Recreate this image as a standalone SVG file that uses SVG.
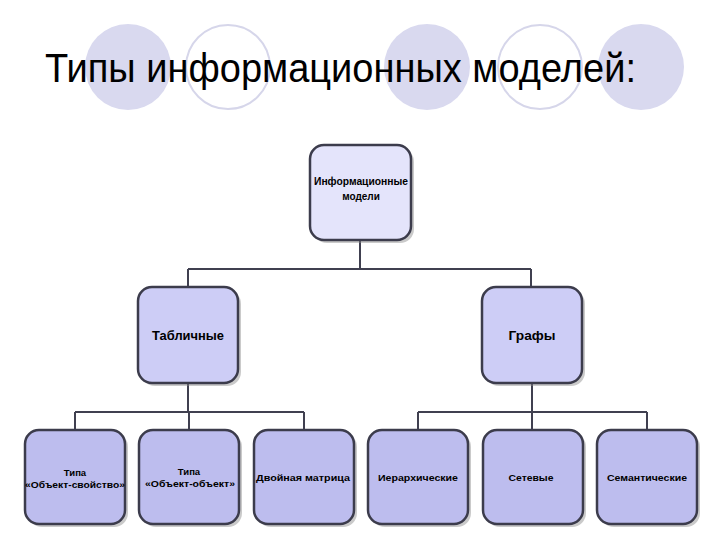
<svg xmlns="http://www.w3.org/2000/svg" width="720" height="540" viewBox="0 0 720 540">
<defs>
<style>
.cf{fill:#d9d9ef;stroke:none}
.co{fill:#ffffff;stroke:#d6d6ea;stroke-width:2}
.title{font-family:"Liberation Sans",Arial,sans-serif;font-size:40px;fill:#000}
.box{stroke:#3c3c4c;stroke-width:2.5}
.sh{fill:#8a8a8a;opacity:0.45}
.l0{fill:#e4e4fb}
.l1{fill:#cdcdf6}
.l2{fill:#bdbdee}
.t{font-family:"Liberation Sans",Arial,sans-serif;font-weight:bold;fill:#000;text-anchor:middle}
.t1{font-size:13px}
.t2{font-size:9.5px}
.conn{fill:none;stroke:#404050;stroke-width:2}
</style>
</defs>
<rect width="720" height="540" fill="#ffffff"/>
<g id="decor">
<circle class="cf" cx="128" cy="67" r="43"/>
<circle class="co" cx="228" cy="67" r="42"/>
<circle class="cf" cx="427" cy="67" r="43"/>
<circle class="co" cx="540" cy="67" r="42"/>
<circle class="cf" cx="641" cy="67" r="43"/>
</g>
<text class="title" x="45" y="82" textLength="591" lengthAdjust="spacingAndGlyphs">Типы информационных моделей:</text>
<g id="connectors">
<path class="conn" d="M360 241V269M188 269H531M188 269V287M531 269V287"/>
<path class="conn" d="M188 383V412M75 412H304M75 412V430M189 412V430M304 412V430"/>
<path class="conn" d="M532 383V412M418 412H647M418 412V430M532 412V430M647 412V430"/>
</g>
<g id="root">
<rect class="sh" x="313" y="148" width="101" height="95" rx="14"/>
<rect class="box l0" x="310" y="145" width="101" height="95" rx="14"/>
<text class="t" x="361" y="185" font-size="10" textLength="94" lengthAdjust="spacingAndGlyphs">Информационные</text>
<text class="t" x="361" y="200" font-size="10">модели</text>
</g>
<g id="tabular">
<rect class="sh" x="141" y="290" width="100" height="96" rx="14"/>
<rect class="box l1" x="138" y="287" width="100" height="96" rx="14"/>
<text class="t t1" x="188" y="340" textLength="72" lengthAdjust="spacingAndGlyphs">Табличные</text>
</g>
<g id="graphs">
<rect class="sh" x="485" y="290" width="100" height="96" rx="14"/>
<rect class="box l1" x="482" y="287" width="100" height="96" rx="14"/>
<text class="t t1" x="532" y="340" textLength="47" lengthAdjust="spacingAndGlyphs">Графы</text>
</g>
<g id="obj-prop">
<rect class="sh" x="28" y="433" width="100" height="94" rx="14"/>
<rect class="box l2" x="25" y="430" width="100" height="94" rx="14"/>
<text class="t t2" x="75" y="476">Типа</text>
<text class="t t2" x="75" y="488" textLength="100" lengthAdjust="spacingAndGlyphs">«Объект-свойство»</text>
</g>
<g id="obj-obj">
<rect class="sh" x="142" y="433" width="100" height="94" rx="14"/>
<rect class="box l2" x="139" y="430" width="100" height="94" rx="14"/>
<text class="t t2" x="189" y="475">Типа</text>
<text class="t t2" x="190" y="487" textLength="90" lengthAdjust="spacingAndGlyphs">«Объект-объект»</text>
</g>
<g id="matrix">
<rect class="sh" x="257" y="433" width="100" height="94" rx="14"/>
<rect class="box l2" x="254" y="430" width="100" height="94" rx="14"/>
<text class="t t2" x="303" y="481" textLength="94" lengthAdjust="spacingAndGlyphs">Двойная матрица</text>
</g>
<g id="hier">
<rect class="sh" x="371" y="433" width="100" height="94" rx="14"/>
<rect class="box l2" x="368" y="430" width="100" height="94" rx="14"/>
<text class="t t2" x="418" y="481" textLength="80" lengthAdjust="spacingAndGlyphs">Иерархические</text>
</g>
<g id="net">
<rect class="sh" x="486" y="433" width="100" height="94" rx="14"/>
<rect class="box l2" x="483" y="430" width="100" height="94" rx="14"/>
<text class="t t2" x="531" y="481" textLength="45" lengthAdjust="spacingAndGlyphs">Сетевые</text>
</g>
<g id="sem">
<rect class="sh" x="600" y="433" width="100" height="94" rx="14"/>
<rect class="box l2" x="597" y="430" width="100" height="94" rx="14"/>
<text class="t t2" x="647" y="481" textLength="80" lengthAdjust="spacingAndGlyphs">Семантические</text>
</g>
</svg>
